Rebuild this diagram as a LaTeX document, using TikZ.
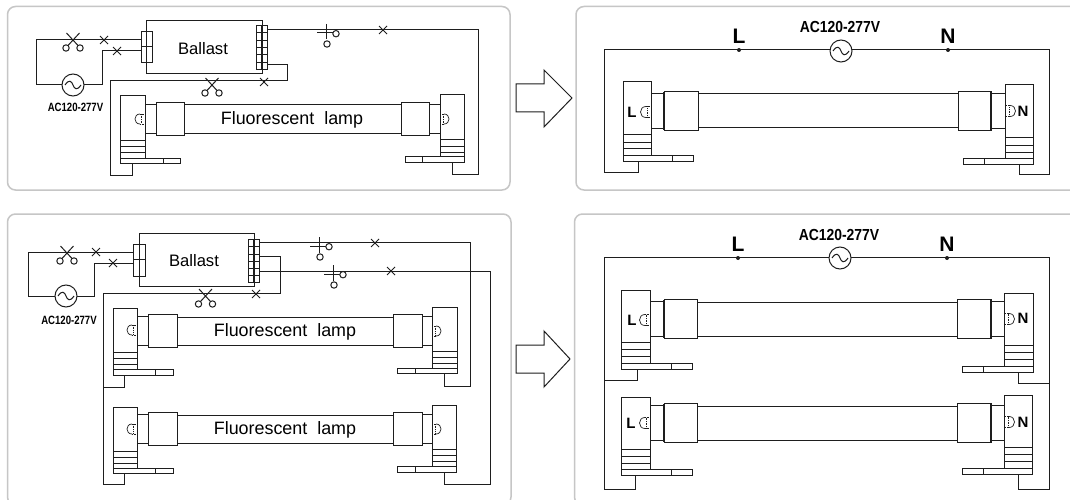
\documentclass[tikz,border=0pt]{standalone}
\usepackage{fontspec}
\setmainfont{Liberation Sans}
\definecolor{wire}{HTML}{1E1E1E}
\definecolor{panelgray}{HTML}{C6C6C6}
\newcommand{\fs}[1]{\fontsize{#1}{#1}\selectfont}
% open switch with two contacts
\newcommand{\scis}[2]{%
  \draw[wl] (#1-6.5,#2) -- (#1+5,#2+12.5) (#1+6.5,#2) -- (#1-5,#2+12.5);
  \draw[wl,fill=white] (#1-7,#2+15) circle[radius=3.2] (#1+7,#2+15) circle[radius=3.2];}
% cut mark
\newcommand{\tick}[2]{\draw[wl] (#1-4,#2-4) -- (#1+4,#2+4) (#1+4,#2-4) -- (#1-4,#2+4);}
% starter style switch
\newcommand{\psw}[2]{%
  \draw[wl] (#1,#2-9) -- (#1,#2+6.5) (#1-9,#2) -- (#1+7,#2);
  \draw[wl,fill=white] (#1+10,#2+.7) circle[radius=3.2] (#1+1,#2+11) circle[radius=3.2];}
% AC source
\newcommand{\acs}[2]{%
  \draw[wl,fill=white] (#1,#2) circle[radius=11];
  \draw[wl] (#1-8,#2) .. controls (#1-4,#2-6) and (#1-1.5,#2-4) .. (#1,#2)
     .. controls (#1+1.5,#2+4) and (#1+4,#2+6) .. (#1+8,#2);}
% lamp holder
\newcommand{\holder}[9]{%
  \draw[wl] (#1,#3) rectangle (#2,#4);
  \foreach \yy in {#8} {\draw[wl] (#1,\yy) -- (#2,\yy);}
  \draw[wl,fill=white] (#5,#9) rectangle (#6,#4);
  \draw[wl] (#7,#9) -- (#7,#4);}
% tube with end caps
\newcommand{\tube}[8]{%
  \draw[wl] (#3,#7-#8) -- (#4,#7-#8) (#3,#7+#8) -- (#4,#7+#8);
  \draw[wl] (#1,#7-#8-.5) rectangle (#2,#7+#8+.5);
  \draw[wl] (#5,#7-#8-.5) rectangle (#6,#7+#8+.5);
  \draw[wl] (#2,#7-#8-2.3) rectangle (#3,#7+#8+2.3);
  \draw[wl] (#4,#7-#8-2.3) rectangle (#5,#7+#8+2.3);}
% heavier joint between the two caps
\newcommand{\joint}[4]{\draw[wl,line width=1.5pt] (#1,#3-#4-2) -- (#1,#3+#4+2) (#2,#3-#4-2) -- (#2,#3+#4+2);}
% pins
\newcommand{\pinL}[3]{%
  \draw[pl] (#1,#2-#3) .. controls (#1-1.33*#3,#2-#3) and (#1-1.33*#3,#2+#3) .. (#1,#2+#3);
  \draw[pl,densely dotted] (#1,#2-#3) -- (#1+#3,#2-#3) (#1,#2+#3) -- (#1+#3,#2+#3) (#1+1,#2-#3) -- (#1+1,#2+#3);}
\newcommand{\pinR}[3]{%
  \draw[pl] (#1,#2-#3) .. controls (#1+1.33*#3,#2-#3) and (#1+1.33*#3,#2+#3) .. (#1,#2+#3);
  \draw[pl,densely dotted] (#1,#2-#3) -- (#1-#3,#2-#3) (#1,#2+#3) -- (#1-#3,#2+#3) (#1-1,#2-#3) -- (#1-1,#2+#3);}
\tikzset{
  wl/.style={draw=wire,line width=1pt,line cap=butt},
  pl/.style={draw=wire,line width=.7pt},
  panel/.style={draw=panelgray,line width=1.5pt,rounded corners=8pt},
  lbl/.style={inner sep=0pt,text=black},
}
\begin{document}
\begin{tikzpicture}[x=1pt,y=-1pt]
\useasboundingbox (0,0) rectangle (1070,500);
\clip (0,0) rectangle (1070,500);
\fill[white] (0,0) rectangle (1070,500);
% panels
\draw[panel] (7.5,6.5) rectangle (510,190);
\draw[panel] (576,6.5) rectangle (1090,190);
\draw[panel] (7.5,214) rectangle (511,505);
\draw[panel] (574.5,214) rectangle (1090,505);
% block arrows
\draw[wl] (516,84) -- (544,84) -- (544,70) -- (572,98) -- (544,127) -- (544,112) -- (516,112) -- cycle;
\draw[wl] (516,345) -- (544,345) -- (544,331) -- (570,359) -- (544,387) -- (544,373) -- (516,373) -- cycle;

%% ---- panel 1 ----
\draw[wl] (141,40) -- (36,40) -- (36,85) -- (102,85) -- (102,51) -- (141,51);
\draw[wl] (267,30) -- (478,30) -- (478,174) -- (452,174) -- (452,162);
\draw[wl] (267,65) -- (287,65) -- (287,81) -- (110,81) -- (110,175) -- (132,175) -- (132,163);
\draw[wl,fill=white] (146,21) rectangle (262,74);
\draw[wl] (141,32) rectangle (152,63) (141,47) -- (152,47);
\draw[wl] (256,26) rectangle (267,70) (261.5,26) -- (261.5,70);
\foreach \yy in {33,41,48,55,63} {\draw[wl] (256,\yy) -- (267,\yy);}
\draw[wl] (256,41) rectangle (267,70);
\node[lbl,font=\fs{16.6}] (ballastA) at (203,49) {Ballast};
\acs{73}{85}
\scis{73}{33}
\tick{104}{40}\tick{117}{51}
\psw{326}{33}\tick{383}{30}
\scis{212}{78}\tick{264}{82}
\node[lbl,font=\fs{12}\bfseries] (acA) at (75.5,107) {\scalebox{.8}[1]{AC120-277V}};
\holder{120}{145}{96}{163}{120}{180}{163}{140,146,152}{158}
\holder{440}{464}{95}{162}{405}{464}{422}{139,146,152}{156}
\tube{145}{156}{184}{401}{429}{440}{119}{14}
\pinL{140}{119}{5}\pinR{444}{119}{5}
\node[lbl,font=\fs{17.9}] (lampA) at (292,119.5) {Fluorescent\ \ lamp};

%% ---- panel 2 ----
\draw[wl] (638,161) -- (638,172) -- (604,172) -- (604,50) -- (1049,50) -- (1049,174) -- (1019,174) -- (1019,164);
\acs{841}{51}
\fill[wire] (739,50) circle[radius=2] (948,50) circle[radius=2];
\node[lbl,font=\fs{21}\bfseries] (LtopA) at (739,36) {L};
\node[lbl,font=\fs{21}\bfseries] (NtopA) at (948,36) {N};
\node[lbl,font=\fs{16}\bfseries] (acB) at (840,27) {\scalebox{.87}[1]{AC120-277V}};
\holder{623}{651}{82}{161}{623}{693}{672}{134,142,148}{155}
\holder{1005}{1033}{85}{164}{963}{1033}{984}{137,145,152}{158}
\tube{651}{664}{698}{958}{991}{1005}{111}{17}
\joint{664}{991}{111}{17}
\pinL{646}{112}{5.5}\pinR{1010}{111}{5.5}
\node[lbl,font=\fs{15}\bfseries] (LinA) at (632,112) {L};
\node[lbl,font=\fs{15}\bfseries] (NinA) at (1023,111) {N};

%% ---- panel 3 ----
\draw[wl] (133,252) -- (28,252) -- (28,296) -- (94,296) -- (94,263) -- (133,263);
\draw[wl] (259,242) -- (470,242) -- (470,386) -- (444,386) -- (444,373);
\draw[wl] (259,271) -- (490,271) -- (490,484) -- (444,484) -- (444,472);
\draw[wl] (259,256) -- (280,256) -- (280,293) -- (103,293) -- (103,484) -- (124,484) -- (124,473);
\draw[wl] (103,387) -- (124,387) -- (124,375);
\draw[wl,fill=white] (139,233) rectangle (254,286);
\draw[wl] (133,244) rectangle (145,276) (133,259) -- (145,259);
\draw[wl] (248,239) rectangle (259,282) (253.5,239) -- (253.5,282);
\foreach \yy in {246,254,261,268,275} {\draw[wl] (248,\yy) -- (259,\yy);}
\draw[wl] (248,254) rectangle (259,282);
\node[lbl,font=\fs{16.6}] (ballastB) at (194,261) {Ballast};
\acs{66}{296}
\scis{67}{246}
\tick{96}{252}\tick{113}{263}
\psw{319}{246}\tick{375}{243}
\psw{333}{274}\tick{391}{271}
\scis{205.5}{289}\tick{256}{294}
\node[lbl,font=\fs{12}\bfseries] (acC) at (69,320) {\scalebox{.8}[1]{AC120-277V}};
% lamp 1
\holder{113}{137}{308}{375}{113}{173}{155}{352,358,364}{369}
\holder{432}{457}{307}{373}{397}{457}{415}{351,357,363}{368}
\tube{137}{148}{177}{393}{422}{432}{331}{14}
\pinL{132}{330}{5}\pinR{436}{331}{5}
\node[lbl,font=\fs{17.9}] (lampB) at (285,332) {Fluorescent\ \ lamp};
% lamp 2
\holder{113}{137}{407}{473}{113}{173}{155}{451,457,463}{468}
\holder{432}{456.5}{405}{472}{397}{456.5}{415}{449,455,461}{466}
\tube{137}{148}{177}{393}{422}{432}{429}{14}
\pinL{132}{429}{5}\pinR{436}{429}{5}
\node[lbl,font=\fs{17.9}] (lampC) at (285,429.5) {Fluorescent\ \ lamp};

%% ---- panel 4 ----
\draw[wl] (635,475) -- (635,489) -- (604,489) -- (604,257) -- (1049,257) -- (1049,489) -- (1018,489) -- (1018,474);
\draw[wl] (604,380) -- (637,380) -- (637,368);
\draw[wl] (1049,383) -- (1018,383) -- (1018,372);
\acs{840}{258}
\fill[wire] (738,258) circle[radius=2] (947,258) circle[radius=2];
\node[lbl,font=\fs{21}\bfseries] (LtopB) at (738,244) {L};
\node[lbl,font=\fs{21}\bfseries] (NtopB) at (947,244) {N};
\node[lbl,font=\fs{16}\bfseries] (acD) at (839,235) {\scalebox{.87}[1]{AC120-277V}};
% lamp 1
\holder{621}{650}{290}{369}{621}{692}{671}{342,349,356}{363}
\holder{1004}{1033}{293}{372}{962}{1033}{983}{345,352,359}{366}
\tube{650}{664}{697}{957}{991}{1004}{319}{17}
\joint{664}{991}{319}{17}
\pinL{645}{320}{5.5}\pinR{1009}{319}{5.5}
\node[lbl,font=\fs{15}\bfseries] (LinB) at (632,320) {L};
\node[lbl,font=\fs{15}\bfseries] (NinB) at (1023,318) {N};
% lamp 2
\holder{621}{650}{397}{475}{621}{692}{671}{449,456,463}{469}
\holder{1004}{1032.5}{395}{474}{962}{1032.5}{983}{447,454,461}{468}
\tube{650}{664}{697}{957}{991}{1004}{423}{17}
\joint{664}{991}{423}{17}
\pinL{645}{423}{5.5}\pinR{1009}{422}{5.5}
\node[lbl,font=\fs{15}\bfseries] (LinC) at (631,423) {L};
\node[lbl,font=\fs{15}\bfseries] (NinC) at (1023,422) {N};
\end{tikzpicture}
\end{document}
